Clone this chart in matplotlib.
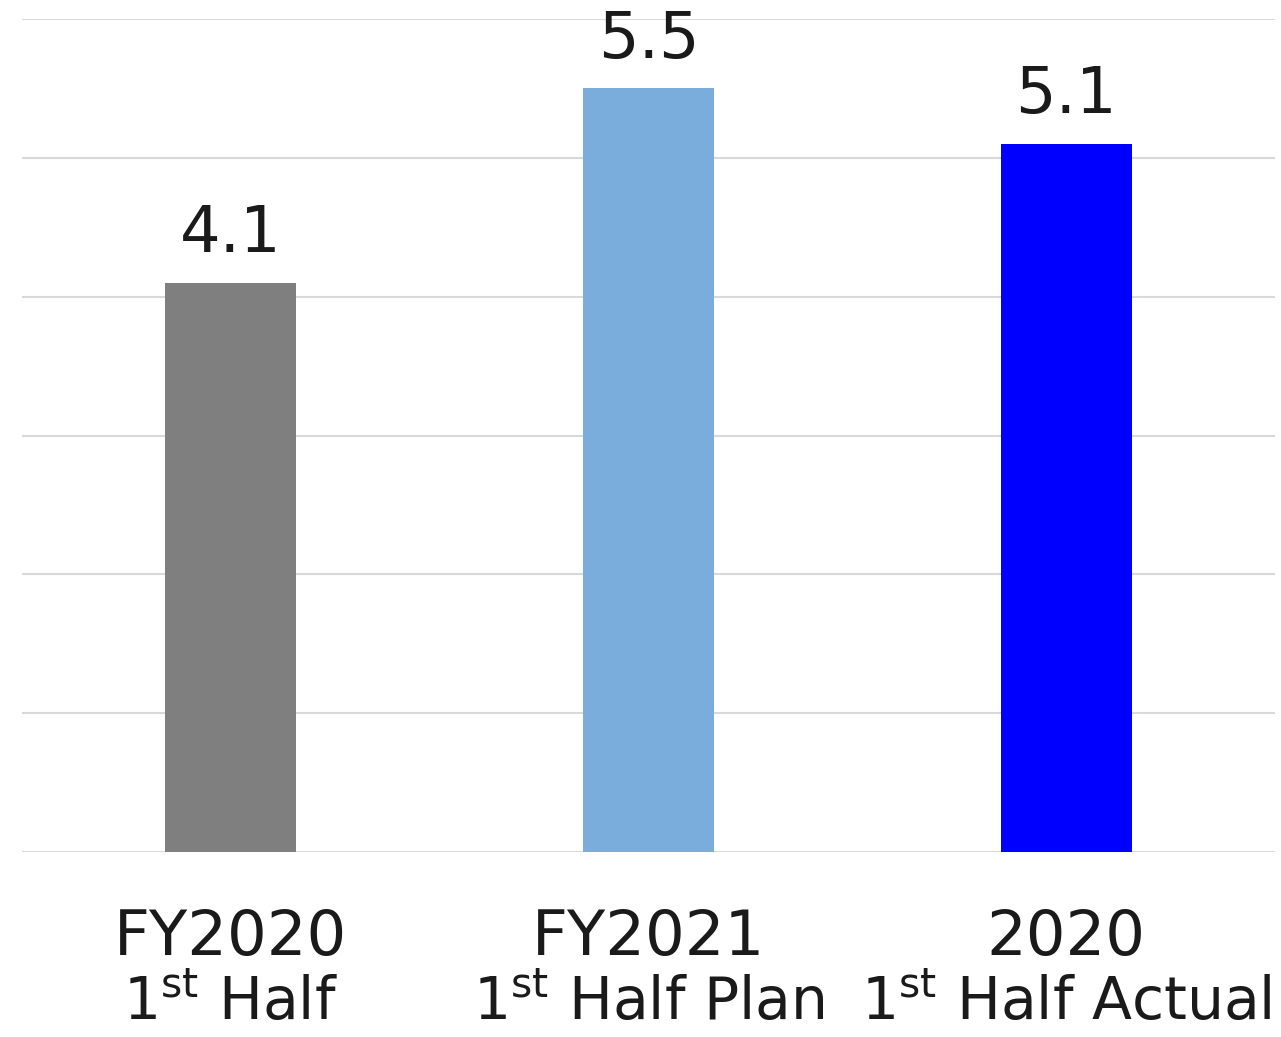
import matplotlib
matplotlib.use("Agg")
import matplotlib.pyplot as plt

cat_line1 = ["FY2020", "FY2021", "2020"]
cat_line2 = ["1$^{\\mathrm{st}}$ Half",
             "1$^{\\mathrm{st}}$ Half Plan",
             "1$^{\\mathrm{st}}$ Half Actual"]
values = [4.1, 5.5, 5.1]
value_labels = ["4.1", "5.5", "5.1"]
colors = ["#7f7f7f", "#7aaddc", "#0000ff"]

plt.rcParams['font.family'] = ['DejaVu Sans']
plt.rcParams['mathtext.fontset'] = 'dejavusans'

fig = plt.figure(figsize=(12.81, 10.37), dpi=100)
ax = fig.add_axes([22/1281, (1037-852)/1037, (1275-22)/1281, (852-19)/1037])

x = list(range(len(values)))
ax.bar(x, values, width=0.314, color=colors, zorder=3)
ax.set_xlim(-0.5, 2.5)
ax.set_ylim(0, 6)
ax.set_yticks([0, 1, 2, 3, 4, 5, 6])
ax.yaxis.grid(True, color="#d9d9d9", linewidth=1.5, zorder=0)
ax.tick_params(axis='y', left=False, labelleft=False)
ax.tick_params(axis='x', bottom=False, labelbottom=False)
for s in ax.spines.values():
    s.set_visible(False)

txtc = "#1a1a1a"
for xi, v, lab in zip(x, values, value_labels):
    ax.annotate(lab, (xi, v), xytext=(0, 22), textcoords="offset points",
                ha="center", va="baseline", fontsize=46, color=txtc)

for xi, l1, l2 in zip(x, cat_line1, cat_line2):
    ax.annotate(l1, (xi, 0), xytext=(0, -74), textcoords="offset points",
                ha="center", va="baseline", fontsize=45, color=txtc,
                annotation_clip=False)
    ax.annotate(l2, (xi, 0), xytext=(0, -121), textcoords="offset points",
                ha="center", va="baseline", fontsize=42, color=txtc,
                annotation_clip=False)

fig.savefig("out.png", dpi=100, facecolor="white")
